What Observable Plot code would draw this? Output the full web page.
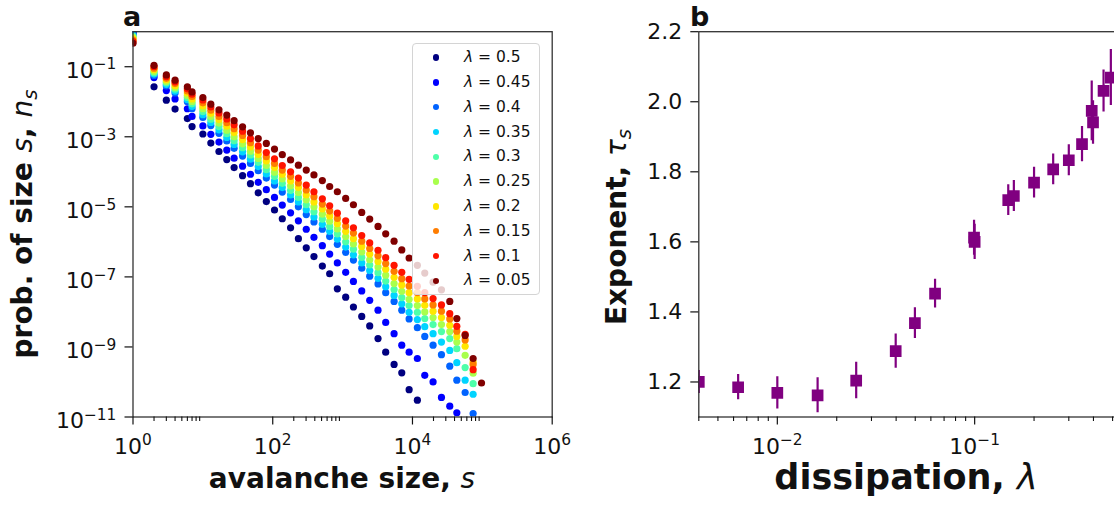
<!DOCTYPE html>
<html><head><meta charset="utf-8">
<script src="https://cdn.jsdelivr.net/npm/d3@7"></script>
<script src="https://cdn.jsdelivr.net/npm/@observablehq/plot@0.6"></script>
<style>
body{margin:0;background:#fff;}
#fig{position:relative;width:1114px;height:506px;overflow:hidden;font-family:"DejaVu Sans",sans-serif;color:#111;background:#fff;}
.panel{position:absolute;top:0;}
.lbl{position:absolute;font-weight:bold;white-space:nowrap;line-height:1;}
.mi{font-style:italic;font-weight:normal;}
.sub{font-size:0.7em;position:relative;top:0.25em;}
#legend{position:absolute;left:411.7px;top:43.3px;width:128.3px;height:251.7px;box-sizing:border-box;border:1px solid #d4d4d4;border-radius:4px;background:rgba(255,255,255,0.8);z-index:5;}
.lmk{position:absolute;width:6.4px;height:6.4px;border-radius:50%;}
.ltx{position:absolute;left:51.3px;font-size:15.5px;line-height:1;white-space:nowrap;color:#111;}
</style></head>
<body><div id="fig"></div>
<script>
// ---------- Panel a data ----------
const lambdas = ["0.5","0.45","0.4","0.35","0.3","0.25","0.2","0.15","0.1","0.05"];
const jetColors = ["#000080","#0000ff","#0063ff","#00d4ff","#4effa9","#a9ff4d","#ffe600","#ff7d00","#ff1400","#800000"];
const sizes = [1,2,3,4,6,7,10,13,17,22,28,37,48,62,81,106,137,180,233,302,389,513,653,841,1107,1429,1879,2443,3214,4140,5458,7031,8954,11750,15000,19720,26000,34200,43150,56750,73800,97300];
// log10 of n_s for each lambda (bin by bin)
const logN_050 = [-0.02,-1.575,-1.955,-2.21,-2.48,-2.71,-2.92,-3.18,-3.42,-3.65,-3.88,-4.11,-4.34,-4.60,-4.85,-5.09,-5.34,-5.60,-5.91,-6.17,-6.42,-6.69,-6.91,-7.34,-7.58,-7.86,-8.13,-8.40,-8.76,-9.15,-9.50,-9.74,-10.22,-10.52];
const logN_045 = [-0.04,-1.31,-1.68,-1.92,-2.20,-2.42,-2.69,-2.93,-3.15,-3.38,-3.61,-3.84,-4.07,-4.30,-4.51,-4.73,-4.95,-5.17,-5.40,-5.64,-5.87,-6.11,-6.35,-6.60,-6.87,-7.13,-7.40,-7.67,-7.95,-8.30,-8.62,-8.95,-9.15,-9.33,-9.81,-10.00,-10.44,-10.69,-10.88];
const logN_040 = [-0.07,-1.25,-1.55,-1.75,-2.00,-2.20,-2.45,-2.68,-2.90,-3.12,-3.33,-3.55,-3.76,-3.97,-4.18,-4.38,-4.58,-4.79,-5.00,-5.22,-5.43,-5.64,-5.85,-6.07,-6.30,-6.52,-6.75,-6.98,-7.20,-7.45,-7.70,-7.95,-8.20,-8.45,-8.70,-8.95,-9.22,-9.55,-9.95,-10.30,-10.90];
const logN_035 = [-0.10,-1.21,-1.51,-1.70,-1.94,-2.13,-2.37,-2.59,-2.80,-3.02,-3.22,-3.43,-3.64,-3.85,-4.06,-4.26,-4.45,-4.66,-4.86,-5.08,-5.29,-5.50,-5.70,-5.92,-6.15,-6.37,-6.60,-6.82,-7.04,-7.28,-7.53,-7.77,-8.01,-8.22,-8.42,-8.62,-8.86,-9.10,-9.45,-9.95,-10.35];
const logN_030 = [-0.13,-1.17,-1.46,-1.64,-1.88,-2.06,-2.28,-2.50,-2.71,-2.91,-3.11,-3.31,-3.52,-3.73,-3.94,-4.13,-4.33,-4.53,-4.73,-4.94,-5.14,-5.35,-5.56,-5.77,-6.00,-6.21,-6.44,-6.66,-6.88,-7.12,-7.36,-7.59,-7.82,-8.01,-8.19,-8.36,-8.56,-8.76,-9.05,-9.59,-10.05];
const logN_025 = [-0.16,-1.13,-1.42,-1.59,-1.82,-1.99,-2.20,-2.42,-2.61,-2.81,-3.00,-3.20,-3.41,-3.62,-3.82,-4.01,-4.20,-4.40,-4.59,-4.80,-5.00,-5.21,-5.41,-5.63,-5.85,-6.06,-6.29,-6.51,-6.72,-6.95,-7.19,-7.41,-7.64,-7.82,-8.00,-8.16,-8.36,-8.56,-8.86,-9.24,-9.75];
const logN_020 = [-0.20,-1.08,-1.37,-1.54,-1.75,-1.92,-2.12,-2.33,-2.51,-2.70,-2.88,-3.08,-3.29,-3.50,-3.69,-3.88,-4.07,-4.26,-4.45,-4.66,-4.86,-5.06,-5.26,-5.48,-5.70,-5.91,-6.13,-6.35,-6.56,-6.78,-7.01,-7.23,-7.45,-7.63,-7.81,-7.98,-8.16,-8.38,-8.70,-8.98,-9.43];
const logN_015 = [-0.24,-1.04,-1.33,-1.48,-1.69,-1.85,-2.03,-2.24,-2.42,-2.60,-2.77,-2.96,-3.17,-3.38,-3.57,-3.76,-3.95,-4.13,-4.32,-4.52,-4.71,-4.92,-5.12,-5.33,-5.55,-5.75,-5.98,-6.19,-6.40,-6.62,-6.84,-7.05,-7.26,-7.45,-7.63,-7.80,-7.98,-8.20,-8.55,-8.80,-9.50];
const logN_010 = [-0.28,-1.00,-1.28,-1.43,-1.63,-1.78,-1.95,-2.15,-2.32,-2.49,-2.66,-2.84,-3.05,-3.26,-3.45,-3.63,-3.82,-4.00,-4.18,-4.38,-4.57,-4.77,-4.97,-5.18,-5.40,-5.60,-5.82,-6.03,-6.24,-6.45,-6.67,-6.87,-7.07,-7.27,-7.45,-7.62,-7.80,-8.05,-8.41,-8.64,-9.65];
const logN_005 = [-0.33,-0.96,-1.234,-1.385,-1.575,-1.718,-1.88,-2.07,-2.23,-2.38,-2.54,-2.715,-2.886,-3.05,-3.19,-3.35,-3.51,-3.66,-3.81,-3.95,-4.09,-4.25,-4.42,-4.57,-4.76,-4.94,-5.16,-5.35,-5.56,-5.77,-5.98,-6.23,-6.46,-6.67,-6.89,-7.15,-7.37,-7.70,-8.19,-8.67,-9.33,-10.03];
const seriesLogN = [logN_050,logN_045,logN_040,logN_035,logN_030,logN_025,logN_020,logN_015,logN_010,logN_005];

// ---------- Panel b data ----------
const dissipation = [0.004,0.00633,0.01,0.016,0.0251,0.0398,0.0498,0.063,0.0993,0.1,0.148,0.158,0.2,0.25,0.3,0.35,0.392,0.398,0.45,0.49];
const exponentTau = [1.20,1.185,1.169,1.162,1.204,1.288,1.368,1.452,1.612,1.600,1.719,1.731,1.769,1.807,1.833,1.879,1.974,1.941,2.031,2.069];
const exponentErr = [0.033,0.036,0.046,0.05,0.052,0.049,0.044,0.041,0.05,0.05,0.044,0.044,0.044,0.044,0.044,0.05,0.085,0.062,0.06,0.08];

// ---------- ticks ----------
const aXMajor = [1,1e2,1e4,1e6];
const aXMinor = [2,3,4,5,6,7,8,9,200,300,400,500,600,700,800,900,20000,30000,40000,50000,60000,70000,80000,90000];
const aYMajor = [1e-1,1e-3,1e-5,1e-7,1e-9,1e-11];
const bXMajor = [0.01,0.1];
const bXMinor = [0.004,0.005,0.006,0.007,0.008,0.009,0.02,0.03,0.04,0.05,0.06,0.07,0.08,0.09,0.2,0.3,0.4,0.5];
const bYTicks = [1.2,1.4,1.6,1.8,2.0,2.2];

const supFmt = d => "10^" + Math.round(Math.log10(d));
function superscripts(svg){
  svg.querySelectorAll("text").forEach(t => {
    const m = /^10\^(-?\d+)$/.exec(t.textContent);
    if (!m) return;
    t.textContent = "10";
    const ts = document.createElementNS("http://www.w3.org/2000/svg","tspan");
    ts.setAttribute("font-size","15.4px");
    ts.setAttribute("dy","-8.3");
    ts.textContent = m[1].replace("-","\u2212");
    t.appendChild(ts);
  });
}

const fig = document.getElementById("fig");
const baseStyle = {fontFamily:"DejaVu Sans, sans-serif", fontSize:"22px", color:"#111", background:"transparent", overflow:"visible"};

const ptsA = seriesLogN.flatMap((arr,k) => arr.map((v,i) => ({lambda: lambdas[k], s: sizes[i], n: Math.pow(10, v)})));

const plotA = Plot.plot({
  width: 560, height: 506,
  marginLeft: 132.5, marginRight: 8.3, marginTop: 31.2, marginBottom: 89.5,
  style: baseStyle,
  x: {type:"log", domain:[1,1e6], label:null},
  y: {type:"log", domain:[1e-11,1], label:null},
  color: {domain: lambdas, range: jetColors},
  marks: [
    Plot.dot(ptsA, {x:"s", y:"n", fill:"lambda", r:3.6, clip:true}),
    Plot.frame({stroke:"#333", strokeWidth:1.3}),
    Plot.axisX(aXMinor, {tickSize:4.5, tickFormat:()=>"", strokeWidth:1.1}),
    Plot.axisX(aXMajor, {tickSize:8, tickPadding:13, tickFormat:supFmt, fontSize:22, strokeWidth:1.2}),
    Plot.axisY(aYMajor, {tickSize:8, tickFormat:()=>"", strokeWidth:1.2}),
    Plot.axisY(aYMajor, {tickSize:0, tickPadding:16.6, tickFormat:supFmt, fontSize:22, dy:4})
  ]
});
superscripts(plotA);
const divA = document.createElement("div"); divA.className = "panel"; divA.style.left = "0px"; divA.style.width = "560px";
divA.appendChild(plotA); fig.appendChild(divA);

const ptsB = dissipation.map((x,i) => ({x, tau: exponentTau[i], err: exponentErr[i]}));
const plotB = Plot.plot({
  width: 524, height: 506,
  marginLeft: 98.3, marginRight: 4, marginTop: 31.2, marginBottom: 89.5,
  style: baseStyle,
  x: {type:"log", domain:[0.004,0.5484], label:null},
  y: {domain:[1.1,2.2], label:null},
  marks: [
    Plot.ruleX(ptsB, {x:"x", y1:d=>d.tau-d.err, y2:d=>d.tau+d.err, stroke:"#800080", strokeWidth:2.2, clip:true}),
    Plot.dot(ptsB, {x:"x", y:"tau", symbol:"square", r:6.6, fill:"#800080", clip:true}),
    Plot.frame({stroke:"#333", strokeWidth:1.3}),
    Plot.axisX(bXMinor, {tickSize:4.5, tickFormat:()=>"", strokeWidth:1.1}),
    Plot.axisX(bXMajor, {tickSize:8, tickPadding:13, tickFormat:supFmt, fontSize:22, strokeWidth:1.2}),
    Plot.axisY(bYTicks, {tickSize:8, tickPadding:8.6, tickFormat:d3.format(".1f"), fontSize:22, strokeWidth:1.2})
  ]
});
superscripts(plotB);
const divB = document.createElement("div"); divB.className = "panel"; divB.style.left = "600px"; divB.style.width = "524px";
divB.appendChild(plotB); fig.appendChild(divB);

// ---------- labels ----------
function label(html, css){ const d = document.createElement("div"); d.className = "lbl"; d.innerHTML = html; Object.assign(d.style, css); fig.appendChild(d); return d; }
label("a", {left:"123px", top:"3px", fontSize:"27px"});
label("b", {left:"690px", top:"3px", fontSize:"27px"});
label('avalanche size, <span class="mi">s</span>', {left:"342px", top:"465.3px", fontSize:"28px", transform:"translateX(-50%)"});
label('dissipation, <span class="mi">λ</span>', {left:"906px", top:"460.4px", fontSize:"35px", transform:"translateX(-50%)"});
label('prob. of size <span class="mi">s</span>, <span class="mi">n</span><span class="mi sub">s</span>', {left:"23px", top:"223.8px", fontSize:"28px", transform:"translate(-50%,-50%) rotate(-90deg)"});
label('Exponent, <span class="mi">τ</span><span class="mi sub">s</span>', {left:"617.3px", top:"226.7px", fontSize:"28px", transform:"translate(-50%,-50%) rotate(-90deg)"});

// ---------- legend ----------
const leg = document.createElement("div"); leg.id = "legend";
lambdas.forEach((l,k) => {
  const cy = 13.4 + 24.8*k;
  const mk = document.createElement("div"); mk.className = "lmk";
  mk.style.left = (23.3-3.2) + "px"; mk.style.top = (cy-3.2) + "px"; mk.style.background = jetColors[k];
  const tx = document.createElement("div"); tx.className = "ltx";
  tx.style.top = (cy - 7.45) + "px";
  tx.innerHTML = '<span class="mi">λ</span> = ' + l;
  leg.appendChild(mk); leg.appendChild(tx);
});
fig.appendChild(leg);
</script>
</body></html>
